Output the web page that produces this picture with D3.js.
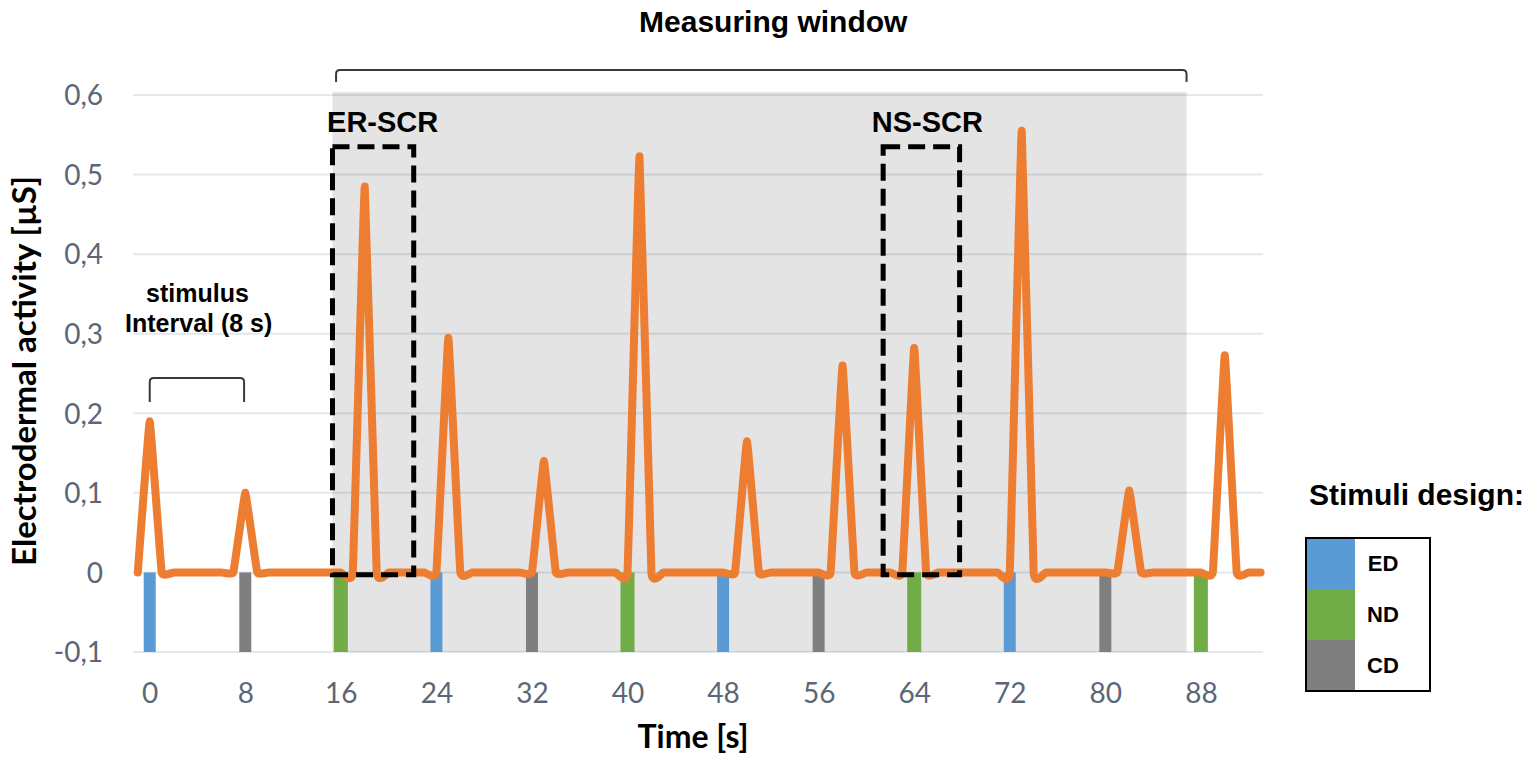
<!DOCTYPE html>
<html>
<head>
<meta charset="utf-8">
<script src="https://cdn.jsdelivr.net/npm/d3@7"></script>
<style>
  body { margin: 0; background: #fff; }
</style>
</head>
<body>
<script>
var width = 1536;
var height = 764;

// electrodermal signal, one sample per second from -1 s to 93 s
var edaTime = d3.range(-1, 94);
var edaValue = [
  0,                                   // -1
  0.19, 0, 0, 0, 0, 0, 0, 0,           // 0-7
  0.10, 0, 0, 0, 0, 0, 0, 0,           // 8-15
  0, 0, 0.485, 0, 0, 0, 0, 0,          // 16-23
  0, 0.295, 0, 0, 0, 0, 0, 0,          // 24-31
  0, 0.14, 0, 0, 0, 0, 0, 0,           // 32-39
  0, 0.523, 0, 0, 0, 0, 0, 0,          // 40-47
  0, 0, 0.165, 0, 0, 0, 0, 0,          // 48-55
  0, 0, 0.26, 0, 0, 0, 0, 0,           // 56-63
  0.282, 0, 0, 0, 0, 0, 0, 0,          // 64-71
  0, 0.555, 0, 0, 0, 0, 0, 0,          // 72-79
  0, 0, 0.103, 0, 0, 0, 0, 0,          // 80-87
  0, 0, 0.273, 0, 0, 0                 // 88-93
];

// stimulus onsets and their type
var stimTime = [0, 8, 16, 24, 32, 40, 48, 56, 64, 72, 80, 88];
var stimType = ["ED", "CD", "ND", "ED", "CD", "ND", "ED", "CD", "ND", "ED", "CD", "ND"];

var legendTypes = ["ED", "ND", "CD"];
var xTicks = [0, 8, 16, 24, 32, 40, 48, 56, 64, 72, 80, 88];
var yTicks = [-0.1, 0, 0.1, 0.2, 0.3, 0.4, 0.5, 0.6];

// annotation windows (seconds / µS)
var measureWindow = [15.3, 86.8];
var scrBoxes = [
  {label: "ER-SCR", t0: 15.3, t1: 22.1, top: 0.535, labelT: 19.5},
  {label: "NS-SCR", t0: 61.4, t1: 67.8, top: 0.535, labelT: 65.1}
];

var typeColor = {ED: "#5B9BD5", ND: "#70AD47", CD: "#7F7F7F"};
var typeWidth = {ED: 12, ND: 14, CD: 12};

var svg = d3.select("body").append("svg").attr("width", width).attr("height", height);

var x = d3.scaleLinear().domain([-1.4, 93.2]).range([133, 1263]);
var y = d3.scaleLinear().domain([-0.1, 0.6]).range([652, 95]);

var fmt = function(d) {
  if (d === 0) return "0";
  return d3.format(".1f")(d).replace(".", ",").replace("\u2212", "-");
};

// gridlines
svg.append("g").selectAll("line").data(yTicks).enter().append("line")
  .attr("x1", x.range()[0]).attr("x2", x.range()[1])
  .attr("y1", function(d) { return y(d); })
  .attr("y2", function(d) { return y(d); })
  .attr("stroke", "#e3e8ef").attr("stroke-width", 2);

// shaded measuring window
svg.append("rect")
  .attr("x", x(measureWindow[0]))
  .attr("y", y(0.604))
  .attr("width", x(measureWindow[1]) - x(measureWindow[0]))
  .attr("height", y(-0.1) - y(0.604))
  .attr("fill", "#000").attr("fill-opacity", 0.105);

// bracket above the window
var bx0 = x(15.6), bx1 = x(86.8), by = 70, bend = 82, r = 4;
svg.append("path")
  .attr("d", "M" + bx0 + "," + bend + " L" + bx0 + "," + (by + r) + " Q" + bx0 + "," + by + " " + (bx0 + r) + "," + by +
    " L" + (bx1 - r) + "," + by + " Q" + bx1 + "," + by + " " + bx1 + "," + (by + r) + " L" + bx1 + "," + bend)
  .attr("fill", "none").attr("stroke", "#3a3a3a").attr("stroke-width", 2);

svg.append("text").attr("x", x(52.2)).attr("y", 32)
  .attr("text-anchor", "middle")
  .style("font-family", "'Liberation Sans', Arial, sans-serif")
  .style("font-weight", "bold").style("font-size", "30px")
  .text("Measuring window");

// stimulus bars
var stim = stimTime.map(function(t, i) { return {t: t, type: stimType[i]}; });
svg.append("g").selectAll("rect").data(stim).enter().append("rect")
  .attr("x", function(d) { return x(d.t) - typeWidth[d.type] / 2; })
  .attr("y", y(0))
  .attr("width", function(d) { return typeWidth[d.type]; })
  .attr("height", y(-0.1) - y(0))
  .attr("fill", function(d) { return typeColor[d.type]; });

// signal line, lightly smoothed
var eda = edaTime.map(function(t, i) { return {t: t, v: edaValue[i]}; });
var line = d3.line()
  .x(function(d) { return x(d.t); })
  .y(function(d) { return y(d.v); })
  .curve(d3.curveCardinal.tension(0.8));

svg.append("path").datum(eda)
  .attr("d", line)
  .attr("fill", "none")
  .attr("stroke", "#ED7D31")
  .attr("stroke-width", 8)
  .attr("stroke-linejoin", "round")
  .attr("stroke-linecap", "round");

// dashed SCR boxes
svg.append("g").selectAll("rect").data(scrBoxes).enter().append("rect")
  .attr("x", function(d) { return x(d.t0); })
  .attr("y", function(d) { return y(d.top); })
  .attr("width", function(d) { return x(d.t1) - x(d.t0); })
  .attr("height", function(d) { return y(-0.003) - y(d.top); })
  .attr("fill", "none").attr("stroke", "#000")
  .attr("stroke-width", 5).attr("stroke-dasharray", "17,8");

svg.append("g").selectAll("text").data(scrBoxes).enter().append("text")
  .attr("x", function(d) { return x(d.labelT); })
  .attr("y", 132)
  .attr("text-anchor", "middle")
  .style("font-family", "'Liberation Sans', Arial, sans-serif")
  .style("font-weight", "bold").style("font-size", "29px")
  .text(function(d) { return d.label; });

// stimulus interval bracket
var sx0 = x(0), sx1 = x(7.9), sy = 378, send = 402;
svg.append("path")
  .attr("d", "M" + sx0 + "," + send + " L" + sx0 + "," + (sy + r) + " Q" + sx0 + "," + sy + " " + (sx0 + r) + "," + sy +
    " L" + (sx1 - r) + "," + sy + " Q" + sx1 + "," + sy + " " + sx1 + "," + (sy + r) + " L" + sx1 + "," + send)
  .attr("fill", "none").attr("stroke", "#3a3a3a").attr("stroke-width", 2);

var stimLabel = svg.append("text").attr("text-anchor", "middle")
  .style("font-family", "'Liberation Sans', Arial, sans-serif")
  .style("font-weight", "bold").style("font-size", "25px");
stimLabel.append("tspan").attr("x", x(4)).attr("y", 302).text("stimulus");
stimLabel.append("tspan").attr("x", x(4.1)).attr("y", 332).text("Interval (8 s)");

// axes
var yAxis = svg.append("g")
  .attr("transform", "translate(103,0)")
  .call(d3.axisLeft(y).tickValues(yTicks).tickFormat(fmt).tickSize(0).tickPadding(0));
yAxis.select(".domain").remove();
yAxis.selectAll("text")
  .attr("dy", "0.35em")
  .style("font-family", "Lato, 'Open Sans', sans-serif")
  .style("font-size", "28px").attr("fill", "#5b6777");

var xAxis = svg.append("g")
  .attr("transform", "translate(0,693)")
  .call(d3.axisBottom(x).tickValues(xTicks).tickSize(0).tickPadding(0));
xAxis.select(".domain").remove();
xAxis.selectAll("text")
  .attr("y", 0).attr("dy", "0.35em")
  .style("font-family", "Lato, 'Open Sans', sans-serif")
  .style("font-size", "28px").attr("fill", "#5b6777");

svg.append("text")
  .attr("transform", "translate(36,371) rotate(-90)")
  .attr("text-anchor", "middle")
  .style("font-family", "Lato, 'Open Sans', sans-serif")
  .style("font-weight", "bold").style("font-size", "33px")
  .text("Electrodermal activity [µS]");

svg.append("text")
  .attr("x", 693).attr("y", 748)
  .attr("text-anchor", "middle")
  .style("font-family", "Lato, 'Open Sans', sans-serif")
  .style("font-weight", "bold").style("font-size", "32px")
  .text("Time [s]");

// legend
svg.append("text").attr("x", 1309).attr("y", 505)
  .style("font-family", "'Liberation Sans', Arial, sans-serif")
  .style("font-weight", "bold").style("font-size", "30px")
  .text("Stimuli design:");

var lg = svg.append("g").attr("transform", "translate(1306,538)");
var rowH = 51;
lg.selectAll("rect.sw").data(legendTypes).enter().append("rect")
  .attr("class", "sw")
  .attr("x", 0).attr("y", function(d, i) { return i * rowH; })
  .attr("width", 49).attr("height", rowH)
  .attr("fill", function(d) { return typeColor[d]; });
lg.selectAll("text").data(legendTypes).enter().append("text")
  .attr("x", 77).attr("y", function(d, i) { return i * rowH + rowH / 2; })
  .attr("dy", "0.36em").attr("text-anchor", "middle")
  .style("font-family", "'Liberation Sans', Arial, sans-serif")
  .style("font-weight", "bold").style("font-size", "22px")
  .text(function(d) { return d; });
lg.append("rect")
  .attr("x", 0).attr("y", 0).attr("width", 124).attr("height", rowH * 3)
  .attr("fill", "none").attr("stroke", "#000").attr("stroke-width", 2);
</script>
</body>
</html>
